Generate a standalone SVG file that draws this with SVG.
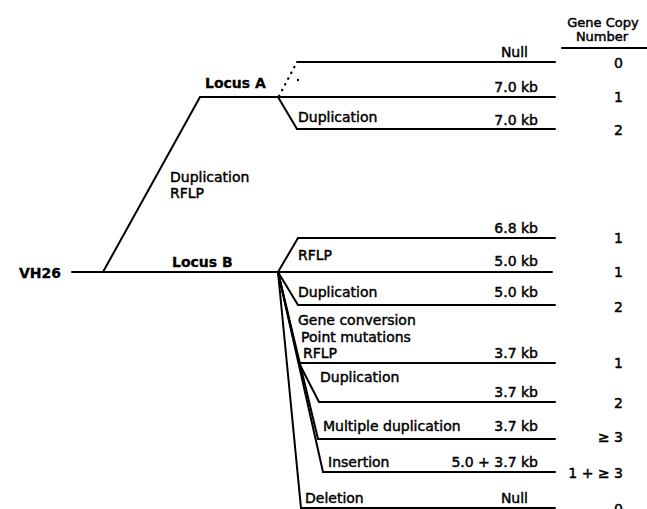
<svg xmlns="http://www.w3.org/2000/svg" width="647" height="509" viewBox="0 0 647 509">
<style>
text{font-family:"DejaVu Sans","Liberation Sans",sans-serif;font-size:14px;fill:#000;stroke:#000;stroke-width:0.45}
.b{font-weight:bold;stroke-width:0.3}
.e{text-anchor:end}
.m{text-anchor:middle}
.h{font-size:13px}
.ln{stroke:#000;stroke-width:2;fill:none;stroke-linecap:round}
.dot{stroke:#000;stroke-width:2.2;fill:none;stroke-dasharray:0.5 6;stroke-linecap:round}
</style>
<rect width="647" height="509" fill="#fff"/>
<g id="connectors">
<path class="ln" d="M72 272 H552"/>
<path class="ln" d="M103 272 L200 97 H555"/>
<path class="dot" d="M279 96 L297 62"/>
<circle cx="298" cy="80" r="1.2" fill="#000"/>
<path class="ln" d="M297 62 H555"/>
<path class="ln" d="M278 97 L297 129 H555"/>
<path class="ln" d="M278 272 L298 238 H555"/>
<path class="ln" d="M278 272 L298 305 H555"/>
<path class="ln" d="M278 272 L299 363 H555"/>
<path class="ln" d="M299 363 L319 402 H555"/>
<path class="ln" d="M278 272 L318 439 H555"/>
<path class="ln" d="M278 272 L323 472 H555"/>
<path class="ln" d="M278 272 L301 508 H555"/>
<path class="ln" d="M562 48 H647"/>
</g>
<g id="header">
<text class="m h" x="603" y="27">Gene Copy</text>
<text class="m h" x="602" y="41">Number</text>
</g>
<g id="vh26"><text class="b e" x="61" y="278">VH26</text></g>
<g id="dup-rflp"><text x="170" y="182">Duplication</text><text x="170" y="198">RFLP</text></g>
<g id="locusA"><text class="b" x="205" y="88">Locus A</text></g>
<g id="locusB"><text class="b" x="172" y="267">Locus B</text></g>
<g id="a-null"><text class="e" x="528" y="57">Null</text><text class="e" x="623" y="68">0</text></g>
<g id="a-70"><text class="e" x="538" y="92">7.0 kb</text><text class="e" x="623" y="102">1</text></g>
<g id="a-dup"><text x="298" y="122">Duplication</text><text class="e" x="538" y="125">7.0 kb</text><text class="e" x="623" y="135">2</text></g>
<g id="b-68"><text class="e" x="538" y="233">6.8 kb</text><text class="e" x="623" y="243">1</text></g>
<g id="b-rflp"><text x="298" y="260">RFLP</text><text class="e" x="538" y="266">5.0 kb</text><text class="e" x="623" y="277">1</text></g>
<g id="b-dup"><text x="298" y="297">Duplication</text><text class="e" x="538" y="297">5.0 kb</text><text class="e" x="623" y="312">2</text></g>
<g id="b-gc"><text x="298" y="325">Gene conversion</text><text x="301" y="342">Point mutations</text><text x="303" y="358">RFLP</text><text class="e" x="538" y="358">3.7 kb</text><text class="e" x="623" y="368">1</text></g>
<g id="b-gc-dup"><text x="320" y="382">Duplication</text><text class="e" x="538" y="397">3.7 kb</text><text class="e" x="623" y="408">2</text></g>
<g id="b-multi"><text x="323" y="431">Multiple duplication</text><text class="e" x="538" y="431">3.7 kb</text><text class="e" x="623" y="442">≥ 3</text></g>
<g id="b-ins"><text x="328" y="467">Insertion</text><text class="e" x="538" y="467">5.0 + 3.7 kb</text><text class="e" x="623" y="478">1 + ≥ 3</text></g>
<g id="b-del"><text x="305" y="503">Deletion</text><text class="e" x="528" y="503">Null</text><text class="e" x="623" y="514">0</text></g>
</svg>
